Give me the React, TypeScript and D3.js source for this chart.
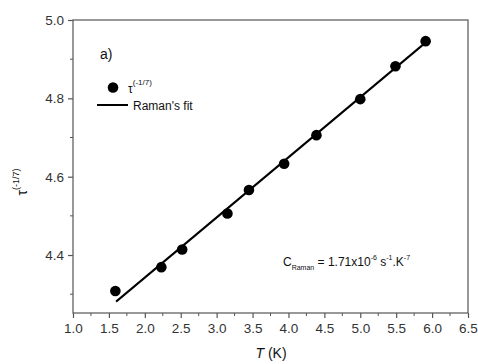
import React, { useRef, useEffect } from 'react';
import * as d3 from 'd3';

// measured points, tau^(-1/7) vs T
const tempK = [1.59, 2.23, 2.52, 3.15, 3.45, 3.94, 4.39, 5.0, 5.49, 5.91];
const tauVals = [4.308, 4.369, 4.414, 4.506, 4.566, 4.633, 4.706, 4.798, 4.882, 4.946];

// Raman fit line endpoints
const fitT = [1.6, 5.9];
const fitTau = [4.281, 4.941];

const xTicks = [1.0, 1.5, 2.0, 2.5, 3.0, 3.5, 4.0, 4.5, 5.0, 5.5, 6.0, 6.5];
const yTicks = [4.4, 4.6, 4.8, 5.0];
const yMinor = [4.3, 4.5, 4.7, 4.9];

const App: React.FC = () => {
  const svgRef = useRef<SVGSVGElement>(null);

  useEffect(() => {
    if (!svgRef.current) return;
    const width = 478;
    const height = 364;
    const margin = { top: 20, right: 10, bottom: 51, left: 73 };

    const svg = d3.select(svgRef.current);
    svg.selectAll('*').remove();

    const x = d3.scaleLinear().domain([1.0, 6.5]).range([margin.left, width - margin.right]);
    const y = d3.scaleLinear().domain([4.252, 5.0]).range([height - margin.bottom, margin.top]);

    const axisColor = '#555';
    const textColor = '#333';
    const font = 'Liberation Sans, Arial, sans-serif';

    // frame
    svg.append('rect')
      .attr('x', margin.left)
      .attr('y', margin.top)
      .attr('width', width - margin.left - margin.right)
      .attr('height', height - margin.top - margin.bottom)
      .attr('fill', 'none')
      .attr('stroke', axisColor)
      .attr('stroke-width', 1.2);

    // x axis
    const xMinor = xTicks.slice(0, -1).map(t => t + 0.25);
    const xAxis = svg.append('g')
      .attr('transform', `translate(0, ${height - margin.bottom})`)
      .call(d3.axisBottom(x).tickValues(xTicks).tickSize(5).tickPadding(5).tickFormat(d3.format('.1f')));
    xAxis.select('.domain').remove();
    xAxis.selectAll('.tick line').attr('stroke', axisColor).attr('stroke-width', 1.2);
    xAxis.selectAll('.tick text').attr('fill', textColor).attr('font-size', '13.5px').attr('font-family', font);
    xMinor.forEach(t => {
      svg.append('line')
        .attr('x1', x(t)).attr('x2', x(t))
        .attr('y1', height - margin.bottom).attr('y2', height - margin.bottom + 3)
        .attr('stroke', axisColor).attr('stroke-width', 1);
    });

    // y axis
    const yAxis = svg.append('g')
      .attr('transform', `translate(${margin.left}, 0)`)
      .call(d3.axisLeft(y).tickValues(yTicks).tickSize(5).tickPadding(4).tickFormat(d3.format('.1f')));
    yAxis.select('.domain').remove();
    yAxis.selectAll('.tick line').attr('stroke', axisColor).attr('stroke-width', 1.2);
    yAxis.selectAll('.tick text').attr('fill', textColor).attr('font-size', '13.5px').attr('font-family', font);
    yMinor.forEach(t => {
      svg.append('line')
        .attr('x1', margin.left - 3).attr('x2', margin.left)
        .attr('y1', y(t)).attr('y2', y(t))
        .attr('stroke', axisColor).attr('stroke-width', 1);
    });

    // fit line
    svg.append('line')
      .attr('x1', x(fitT[0])).attr('y1', y(fitTau[0]))
      .attr('x2', x(fitT[1])).attr('y2', y(fitTau[1]))
      .attr('stroke', '#000')
      .attr('stroke-width', 2);

    // points
    svg.append('g')
      .selectAll('circle')
      .data(tempK.map((t, i) => [t, tauVals[i]]))
      .join('circle')
      .attr('cx', d => x(d[0]))
      .attr('cy', d => y(d[1]))
      .attr('r', 5.3)
      .attr('fill', '#000');

    // panel label
    svg.append('text')
      .attr('x', 100).attr('y', 59)
      .attr('font-family', font).attr('font-size', '14px').attr('fill', '#111')
      .text('a)');

    // legend
    svg.append('circle').attr('cx', 113).attr('cy', 87.5).attr('r', 5.3).attr('fill', '#000');
    const lt = svg.append('text')
      .attr('x', 128).attr('y', 93)
      .attr('font-family', font).attr('font-size', '12px').attr('fill', '#111');
    lt.append('tspan').text('τ');
    lt.append('tspan').attr('dy', -8).attr('font-size', '8px').text('(-1/7)');
    svg.append('line')
      .attr('x1', 97).attr('x2', 128).attr('y1', 105).attr('y2', 105)
      .attr('stroke', '#000').attr('stroke-width', 2);
    svg.append('text')
      .attr('x', 133).attr('y', 110)
      .attr('font-family', font).attr('font-size', '12px').attr('fill', '#111')
      .text("Raman's fit");

    // annotation
    const ann = svg.append('text')
      .attr('x', 283).attr('y', 266)
      .attr('font-family', font).attr('font-size', '12px').attr('fill', '#111');
    ann.append('tspan').text('C');
    ann.append('tspan').attr('dy', 4).attr('font-size', '7px').text('Raman');
    ann.append('tspan').attr('dy', -4).text(' = 1.71x10');
    ann.append('tspan').attr('dy', -6).attr('font-size', '7px').text('-6');
    ann.append('tspan').attr('dy', 6).text(' s');
    ann.append('tspan').attr('dy', -6).attr('font-size', '7px').text('-1');
    ann.append('tspan').attr('dy', 6).text('.K');
    ann.append('tspan').attr('dy', -6).attr('font-size', '7px').text('-7');

    // x label
    const xl = svg.append('text')
      .attr('x', 271).attr('y', 358)
      .attr('text-anchor', 'middle')
      .attr('font-family', font).attr('font-size', '14px').attr('fill', '#111');
    xl.append('tspan').attr('font-style', 'italic').text('T');
    xl.append('tspan').text(' (K)');

    // y label
    const yl = svg.append('text')
      .attr('transform', `translate(27, 182) rotate(-90)`)
      .attr('text-anchor', 'middle')
      .attr('font-family', font).attr('font-size', '14px').attr('fill', '#111');
    yl.append('tspan').text('τ');
    yl.append('tspan').attr('dy', -8).attr('font-size', '9px').text('(-1/7)');
  }, []);

  return (
    <svg ref={svgRef} width={478} height={364} style={{ display: 'block', position: 'absolute', left: 0, top: 0, background: '#fff' }} />
  );
};

export default App;
